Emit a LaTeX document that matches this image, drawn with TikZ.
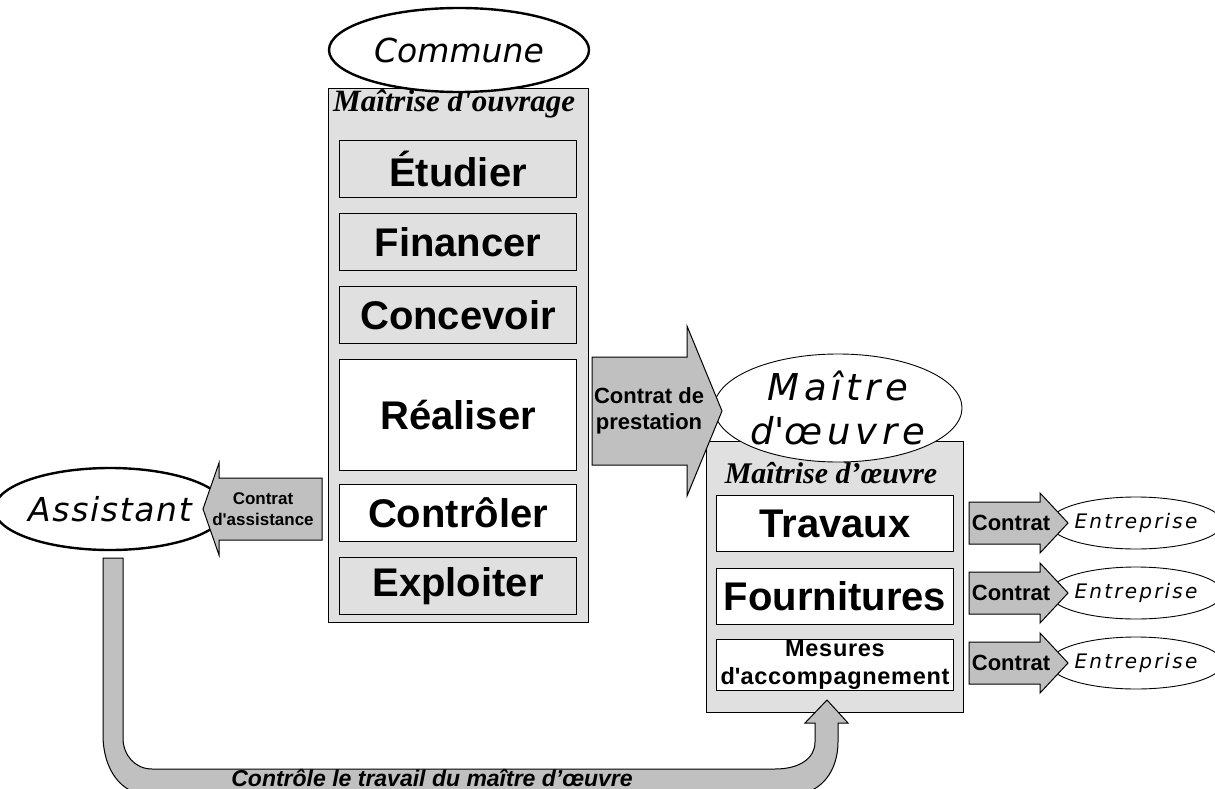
\documentclass[tikz,border=0pt]{standalone}
\usepackage{fontspec}
\setmainfont{Liberation Sans}
\newfontfamily\serifbi{Liberation Serif}
\newfontfamily\ovalfont{DejaVu Sans}
\usepackage{tikz}
\usetikzlibrary{positioning,shapes.geometric}
\definecolor{boxgray}{RGB}{224,224,224}
\definecolor{arrowgray}{RGB}{192,192,192}
\newcommand{\apos}{\textquotesingle}
% block arrow: tail x, tip x, mid y, shaft half, head half, head length
\newcommand{\barrow}[6]{%
  \draw[blockarrow] (#1,{#3-#4}) -- ({#2-(#6)},{#3-#4}) -- ({#2-(#6)},{#3-#5}) -- (#2,#3)
    -- ({#2-(#6)},{#3+#5}) -- ({#2-(#6)},{#3+#4}) -- (#1,{#3+#4}) -- cycle;}
\tikzset{
  bigbox/.style={draw, fill=boxgray, line width=1pt, inner sep=0pt, anchor=north west},
  stepbox/.style={draw, line width=1pt, minimum width=237pt, minimum height=57pt,
    inner sep=0pt, font=\bfseries\fontsize{40}{44}\selectfont},
  oval/.style={ellipse, draw, fill=white, inner sep=0pt, align=center},
  thickoval/.style={oval, line width=2.4pt},
  thinoval/.style={oval, line width=0.9pt},
  blockarrow/.style={draw, fill=arrowgray, line width=1pt, line join=miter},
  arrowtext/.style={font=\bfseries\fontsize{22}{26}\selectfont, align=center, inner sep=0pt},
  boxtitle/.style={font=\serifbi\bfseries\itshape\fontsize{30}{34}\selectfont, inner sep=0pt}
}
\begin{document}
\begin{tikzpicture}[x=1pt,y=-1pt]
\useasboundingbox (0,0) rectangle (1215,789);

% maitrise d'ouvrage
\node[bigbox, minimum width=260pt, minimum height=534pt] (mo) at (328,88) {};
\node[boxtitle, anchor=base west, font=\serifbi\bfseries\itshape\fontsize{31}{34}\selectfont] (motitle) at (333,112) {Maîtrise d\apos ouvrage};
\node[thickoval, minimum width=260pt, minimum height=84pt,
  font=\ovalfont\itshape\fontsize{33}{36}\selectfont] (commune) at (459,50) {Commune};
\node[stepbox, anchor=north west, fill=boxgray] (etudier) at (339,140) {Étudier};
\node[stepbox, fill=boxgray, below=15pt of etudier] (financer) {Financer};
\node[stepbox, fill=boxgray, below=15pt of financer] (concevoir) {Concevoir};
\node[stepbox, fill=white, minimum height=111pt, below=15pt of concevoir] (realiser) {Réaliser};
\node[stepbox, fill=white, below=13pt of realiser] (controler) {Contrôler};
\node[stepbox, fill=boxgray, below=15pt of controler] (exploiter) {Exploiter};

% maitrise d'oeuvre
\node[bigbox, minimum width=257pt, minimum height=271pt] (moe) at (706,441) {};
\node[thinoval, minimum width=248pt, minimum height=108pt,
  font=\ovalfont\itshape\addfontfeatures{LetterSpace=13}\fontsize{37}{44}\selectfont]
  (maitre) at (838,408) {Maître\\d\apos œuvre};
\node[boxtitle, anchor=base] (moetitle) at (831,483) {Maîtrise d’œuvre};
\node[stepbox, anchor=north west, fill=white, minimum height=56pt] (travaux) at (716,495) {Travaux};
\node[stepbox, fill=white, minimum height=56pt, below=16pt of travaux] (fournitures) {Fournitures};
\node[stepbox, fill=white, minimum height=51pt, below=14pt of fournitures, align=center,
  font=\bfseries\addfontfeatures{LetterSpace=3}\fontsize{23.5}{28}\selectfont] (mesures) {Mesures\\d\apos accompagnement};

% assistant
\node[thickoval, minimum width=194pt, minimum height=82pt,
  font=\ovalfont\itshape\addfontfeatures{LetterSpace=5}\fontsize{33}{36}\selectfont] (assistant) at (110,509) {Assistant};

% entreprises
\foreach \i/\y in {1/523, 2/593, 3/663} {
  \node[thinoval, minimum width=152pt, minimum height=52pt,
    font=\ovalfont\itshape\addfontfeatures{LetterSpace=11}\fontsize{20}{24}\selectfont] (ent\i) at (1136,\y) {Entreprise};
  \barrow{969}{1068}{\y}{21}{30}{28}
  \node[arrowtext] (contrat\i) at (1011,\y) {Contrat};
}

% contrats
\barrow{592}{722}{411}{54}{85}{35}
\node[arrowtext] (prestation) at (649,411) {Contrat de\\prestation};
\barrow{322}{203}{509}{31}{46}{-16}
\node[arrowtext, font=\bfseries\fontsize{17}{21}\selectfont] (assistance) at (263,509) {Contrat\\d\apos assistance};

% controle
\draw[blockarrow] (103,558) -- (103,735) .. controls (103,768) and (120,795) .. (150,795)
  -- (790,795) .. controls (822,795) and (838,770) .. (838,742) -- (838,723) -- (848,723)
  -- (827,700) -- (805,723) -- (815,723) -- (815,742) .. controls (815,758) and (800,769) .. (775,769)
  -- (152,769) .. controls (135,769) and (123,755) .. (123,738) -- (123,558) -- cycle;
\node[anchor=base, inner sep=0pt, font=\bfseries\itshape\fontsize{23}{26}\selectfont] (controle) at (432,786)
  {Contrôle le travail du maître d’œuvre};
\end{tikzpicture}
\end{document}
